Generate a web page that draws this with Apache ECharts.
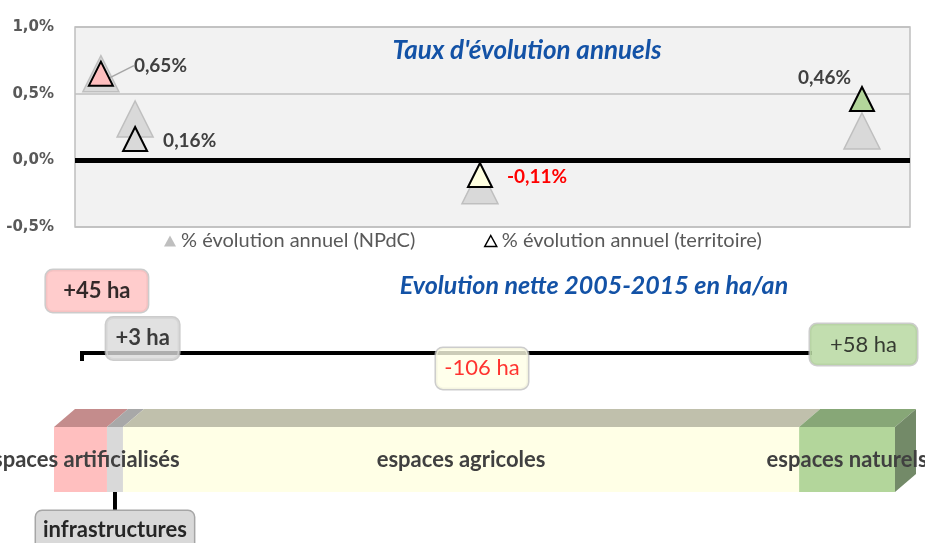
<!DOCTYPE html>
<html><head><meta charset="utf-8">
<script src="https://cdn.jsdelivr.net/npm/echarts@6/dist/echarts.min.js"></script>
<style>html,body{margin:0;padding:0;background:#fff}#c{width:925px;height:543px}</style>
</head><body><div id="c"></div>
<script>
// ---------- data ----------
const categories = ['espaces artificialisés', 'infrastructures', 'espaces agricoles', 'espaces naturels'];
const npdcRate = [0.65, 0.31, -0.19, 0.22];        // % évolution annuel (NPdC)
const territoryRate = [0.65, 0.16, -0.11, 0.46];   // % évolution annuel (territoire)
const netHa = [45, 3, -106, 58];                   // évolution nette ha/an
const landShare = [6.3, 1.9, 80.4, 11.4];          // part du territoire (%)
const yTicks = [-0.5, 0, 0.5, 1.0];
const seriesNames = ['% évolution annuel (NPdC)', '% évolution annuel (territoire)'];

// ---------- layout / style (not data) ----------
const xSlot = [3.1, 7.2, 48.5, 94.25];
const catFront = ['#FFBFBF', '#D9D9D9', '#FFFFE6', '#B3D69B'];
const markerFill = ['#FFBFBF', '#D9D9D9', '#FFFFE0', '#B3D69B'];
const catTop = ['#C48C8C', '#A8A8A8', '#C0C0AC', '#87A777'];
const sideColor = '#738A68';
const boxLevel = [0.825, 0.43, 0.18, 0.379];
const boxDx = [-4, 7.5, 2, 1.5];
const boxW = [102, 73, 92, 107];
const boxH = [42, 42, 41, 41];
const boxWeight = ['bold', 'bold', 'normal', 'normal'];
const boxTextColor = ['#000', '#111', '#FF0000', '#111'];
const titleBlue = '#1352A6';
// label placement for territory markers: [position, distance, dx, dy]
const rateLabelPos = [['right', 8, 12, -8], ['right', 15, 0, 2], ['right', 14, 0, 2], ['left', 0, 2, -21]];

function hasFont(name) {
  const c = document.createElement('canvas').getContext('2d');
  const t = 'espaces agricoles';
  c.font = 'bold 24px monospace';
  const a = c.measureText(t).width;
  c.font = 'bold 24px "' + name + '", monospace';
  return Math.abs(c.measureText(t).width - a) > 0.5;
}
const barFont = hasFont('Liberation Sans Narrow') ? 'bold 24px "Liberation Sans Narrow"' : 'bold 22px Lato';

const fmtRate = v => v.toFixed(2).replace('.', ',') + '%';
const fmtHa = v => (v > 0 ? '+' : '') + v + ' ha';

// cumulative land bar segments
let acc = 0;
const barData = landShare.map((v, i) => { const s = acc; acc += v; return [s, acc, i]; });
const shareTotal = acc;

const chart = echarts.init(document.getElementById('c'));

const option = {
  animation: false,
  grid: [
    { left: 75, top: 27, width: 835, height: 200, show: true, backgroundColor: '#F2F2F2', borderColor: '#BFBFBF', borderWidth: 1.5, outerBoundsMode: 'none' },
    { left: 75, top: 270, width: 835, height: 120, outerBoundsMode: 'none' },
    { left: 54, top: 427, width: 841, height: 65, outerBoundsMode: 'none' }
  ],
  xAxis: [
    { gridIndex: 0, type: 'value', min: 0, max: 100, show: false },
    { gridIndex: 1, type: 'value', min: 0, max: 100, show: false },
    { gridIndex: 2, type: 'value', min: 0, max: shareTotal, show: false }
  ],
  yAxis: [
    {
      gridIndex: 0, type: 'value', min: yTicks[0], max: yTicks[yTicks.length - 1], interval: 0.5,
      axisLine: { show: false }, axisTick: { show: false },
      splitLine: { show: true, lineStyle: { color: '#BFBFBF', width: 1.5 } },
      axisLabel: {
        margin: 21, color: '#595959', fontFamily: 'DejaVu Sans', fontWeight: 'bold', fontSize: 15,
        formatter: v => v.toFixed(1).replace('.', ',') + '%'
      }
    },
    { gridIndex: 1, type: 'value', min: 0, max: 1, show: false },
    { gridIndex: 2, type: 'value', min: 0, max: 1, show: false }
  ],
  legend: [
    {
      left: 164, top: 231, padding: 0, itemWidth: 12, itemHeight: 11, selectedMode: false,
      textStyle: { fontFamily: 'Lato', fontSize: 20, color: '#595959' },
      data: [{ name: seriesNames[0], icon: 'triangle', itemStyle: { color: '#BFBFBF', borderWidth: 0 } }]
    },
    {
      left: 484, top: 231, padding: 0, itemWidth: 12, itemHeight: 11, selectedMode: false,
      textStyle: { fontFamily: 'Lato', fontSize: 20, color: '#595959' },
      data: [{ name: seriesNames[1], icon: 'triangle', itemStyle: { color: '#FFFFFF', borderColor: '#000', borderWidth: 1.5 } }]
    }
  ],
  graphic: [
    { type: 'text', z: 5, style: { text: "Taux d'évolution annuels", x: 527, y: 51, align: 'center', verticalAlign: 'middle', fill: titleBlue, font: 'italic bold 26px Lato' } },
    { type: 'text', z: 5, style: { text: 'Evolution nette 2005-2015 en ha/an', x: 594, y: 286, align: 'center', verticalAlign: 'middle', fill: titleBlue, font: 'italic bold 25px Lato' } },
    { type: 'polyline', z: 0, shape: { points: [[82, 361], [82, 353], [812, 353]] }, style: { stroke: '#000', lineWidth: 4, fill: null } }
  ],
  series: [
    {
      name: seriesNames[0], type: 'scatter', xAxisIndex: 0, yAxisIndex: 0, silent: true,
      symbol: 'triangle', symbolSize: 36, z: 2,
      itemStyle: { color: '#D9D9D9', borderColor: '#BFBFBF', borderWidth: 1.5, opacity: 1 },
      data: xSlot.map((x, i) => [x, npdcRate[i]]),
      markLine: {
        silent: true, symbol: 'none', label: { show: false },
        lineStyle: { color: '#000', width: 5, type: 'solid' },
        data: [{ yAxis: 0 }]
      }
    },
    {
      name: seriesNames[1], type: 'scatter', xAxisIndex: 0, yAxisIndex: 0, silent: true,
      symbol: 'triangle', symbolSize: 24, z: 3,
      itemStyle: { color: '#FFFFFF', borderColor: '#000', borderWidth: 2, opacity: 1 },
      labelLayout: p => ({ dx: rateLabelPos[p.dataIndex][2], dy: rateLabelPos[p.dataIndex][3] }),
      data: xSlot.map((x, i) => ({
        value: [x, territoryRate[i]],
        itemStyle: { color: markerFill[i] },
        label: {
          show: true, formatter: fmtRate(territoryRate[i]),
          position: rateLabelPos[i][0], distance: rateLabelPos[i][1],
          fontFamily: 'Lato', fontWeight: 'bold', fontSize: 19,
          color: territoryRate[i] < 0 ? '#FF0000' : '#404040'
        },
        labelLine: i === 0 ? { show: true, lineStyle: { color: '#A6A6A6', width: 1.5 } } : { show: false }
      }))
    },
    {
      name: 'net', type: 'scatter', xAxisIndex: 1, yAxisIndex: 1, silent: true,
      symbolSize: 1, itemStyle: { color: 'rgba(0,0,0,0)' }, z: 4,
      data: xSlot.map((x, i) => ({
        value: [x, boxLevel[i]],
        label: {
          show: true, position: 'inside', formatter: fmtHa(netHa[i]), offset: [boxDx[i], 0],
          width: boxW[i], lineHeight: boxH[i], align: 'center', verticalAlign: 'middle',
          backgroundColor: catFront[i], borderColor: '#BFBFBF', borderWidth: 1.5, borderRadius: 7, padding: 0,
          fontFamily: 'Lato', fontSize: 22, fontWeight: boxWeight[i], color: boxTextColor[i]
        }
      }))
    },
    {
      name: 'bar', type: 'custom', xAxisIndex: 2, yAxisIndex: 2, silent: true, clip: false,
      data: barData,
      renderItem: function (params, api) {
        const i = api.value(2);
        const x0 = api.coord([api.value(0), 0])[0];
        const x1 = api.coord([api.value(1), 0])[0];
        const yB = api.coord([0, 0])[1];
        const yT = api.coord([0, 1])[1];
        const dx = 21, dy = 18;
        const ch = [
          { type: 'rect', z2: 0, shape: { x: x0, y: yT, width: x1 - x0, height: yB - yT }, style: { fill: catFront[i] } },
          { type: 'polygon', z2: 0, shape: { points: [[x0, yT], [x0 + dx, yT - dy], [x1 + dx, yT - dy], [x1, yT]] }, style: { fill: catTop[i] } }
        ];
        if (i === landShare.length - 1) {
          ch.push({ type: 'polygon', z2: 0, shape: { points: [[x1, yT], [x1 + dx, yT - dy], [x1 + dx, yB - dy], [x1, yB]] }, style: { fill: sideColor } });
        }
        const xc = (x0 + x1) / 2;
        if (i === 1) {
          ch.push({ type: 'line', z2: 5, shape: { x1: xc, y1: yB, x2: xc, y2: yB + 19 }, style: { stroke: '#000', lineWidth: 4 } });
          ch.push({ type: 'text', z2: 12, style: {
            text: categories[i], x: xc, y: yB + 19, align: 'center', verticalAlign: 'top',
            font: barFont, fill: '#262626', backgroundColor: '#D9D9D9', borderColor: '#A6A6A6',
            borderWidth: 1.5, borderRadius: 6, padding: [8, 7, 12, 7]
          } });
        } else {
          ch.push({ type: 'text', z2: 10, style: {
            text: categories[i], x: xc, y: (yT + yB) / 2, align: 'center', verticalAlign: 'middle',
            font: barFont, fill: '#404040'
          } });
        }
        return { type: 'group', children: ch };
      }
    }
  ]
};
chart.setOption(option);
</script>
</body></html>
